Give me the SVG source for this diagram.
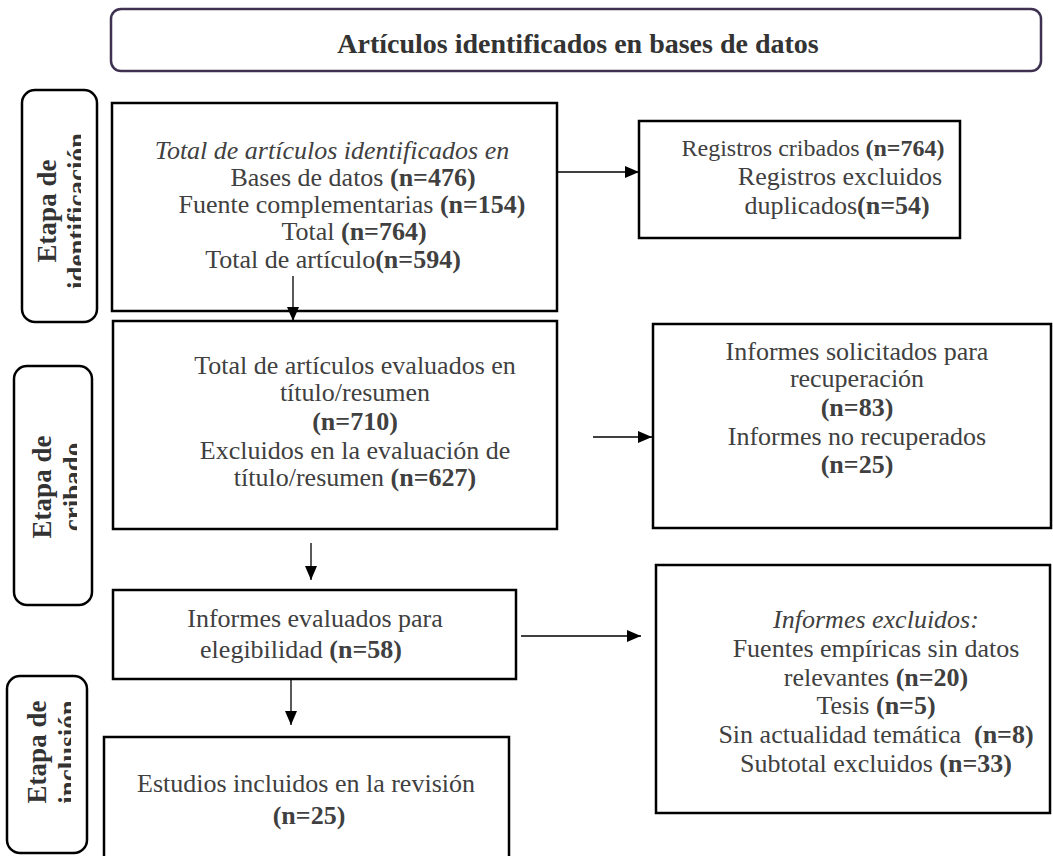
<svg xmlns="http://www.w3.org/2000/svg" width="1053" height="856" viewBox="0 0 1053 856">
<style>
.box{fill:#fff;stroke:#000;stroke-width:2.5}
.lbl{fill:#fff;stroke:#000;stroke-width:2.5}
.t{font-family:"Liberation Serif","Times New Roman",serif;font-size:26px;fill:#404040;text-anchor:middle}
.s{font-family:"Liberation Serif","Times New Roman",serif;font-size:27px;font-weight:bold;fill:#333;text-anchor:middle}
.b{font-weight:bold}
.i{font-style:italic}
.conn line{stroke:#000;stroke-width:1.3}
</style>
<defs>
<marker id="ah" markerUnits="userSpaceOnUse" markerWidth="14" markerHeight="12" refX="14" refY="6" orient="auto">
<path d="M0,0 L14,6 L0,12 z" fill="#000"/>
</marker>
<clipPath id="c1"><rect x="22" y="90" width="59" height="232"/></clipPath>
<clipPath id="c2"><rect x="14" y="366" width="63" height="239"/></clipPath>
<clipPath id="c3"><rect x="7" y="676" width="64" height="177"/></clipPath>
</defs>
<rect width="1053" height="856" fill="#fff"/>

<g id="title">
<rect x="111" y="9" width="930" height="62" rx="10" fill="#fff" stroke="#3f3151" stroke-width="2.5"/>
<text x="578" y="53" class="t b" style="font-size:28px;fill:#333">Artículos identificados en bases de datos</text>
</g>

<g id="stage-identificacion">
<rect class="lbl" x="22" y="90" width="75" height="232" rx="13"/>
<text class="s" transform="translate(56,211) rotate(-90)">Etapa de</text>
<g clip-path="url(#c1)"><text class="s" transform="translate(86,211) rotate(-90)">identificación</text></g>
</g>

<g id="stage-cribado">
<rect class="lbl" x="14" y="366" width="78" height="239" rx="13"/>
<text class="s" transform="translate(51,487) rotate(-90)">Etapa de</text>
<g clip-path="url(#c2)"><text class="s" transform="translate(82,487) rotate(-90)">cribado</text></g>
</g>

<g id="stage-inclusion">
<rect class="lbl" x="7" y="676" width="80" height="177" rx="13"/>
<text class="s" transform="translate(46,752) rotate(-90)">Etapa de</text>
<g clip-path="url(#c3)"><text class="s" transform="translate(77,752) rotate(-90)">inclusión</text></g>
</g>

<g id="identificados">
<rect class="box" x="112" y="103" width="445" height="208"/>
<text class="t i" x="332" y="159">Total de artículos identificados en</text>
<text class="t" x="353" y="186">Bases de datos <tspan class="b">(n=476)</tspan></text>
<text class="t" x="352" y="213">Fuente complementarias <tspan class="b">(n=154)</tspan></text>
<text class="t" x="354" y="240">Total <tspan class="b">(n=764)</tspan></text>
<text class="t" x="333" y="268">Total de artículo<tspan class="b">(n=594)</tspan></text>
</g>

<g id="cribados">
<rect class="box" x="639" y="121" width="321" height="117"/>
<text class="t" x="813" y="156" style="font-size:24px">Registros cribados <tspan class="b">(n=764)</tspan></text>
<text class="t" x="840" y="185">Registros excluidos</text>
<text class="t" x="837" y="214">duplicados<tspan class="b">(n=54)</tspan></text>
</g>

<g id="evaluados">
<rect class="box" x="113" y="321" width="444" height="208"/>
<text class="t" x="355" y="374">Total de artículos evaluados en</text>
<text class="t" x="355" y="401">título/resumen</text>
<text class="t b" x="355" y="430">(n=710)</text>
<text class="t" x="355" y="459">Excluidos en la evaluación de</text>
<text class="t" x="355" y="486">título/resumen <tspan class="b">(n=627)</tspan></text>
</g>

<g id="solicitados">
<rect class="box" x="653" y="324" width="398" height="204"/>
<text class="t" x="857" y="360">Informes solicitados para</text>
<text class="t" x="857" y="387">recuperación</text>
<text class="t b" x="857" y="416">(n=83)</text>
<text class="t" x="857" y="445">Informes no recuperados</text>
<text class="t b" x="857" y="473">(n=25)</text>
</g>

<g id="elegibilidad">
<rect class="box" x="113" y="590" width="403" height="89"/>
<text class="t" x="315" y="627">Informes evaluados para</text>
<text class="t" x="301" y="658">elegibilidad <tspan class="b">(n=58)</tspan></text>
</g>

<g id="excluidos">
<rect class="box" x="656" y="565" width="394" height="248"/>
<text class="t i" x="876" y="628">Informes excluidos:</text>
<text class="t" x="876" y="657">Fuentes empíricas sin datos</text>
<text class="t" x="876" y="686">relevantes <tspan class="b">(n=20)</tspan></text>
<text class="t" x="876" y="714">Tesis <tspan class="b">(n=5)</tspan></text>
<text class="t" x="876" y="743">Sin actualidad temática&#160; <tspan class="b">(n=8)</tspan></text>
<text class="t" x="876" y="772">Subtotal excluidos <tspan class="b">(n=33)</tspan></text>
</g>

<g id="incluidos">
<rect class="box" x="104" y="737" width="405" height="130"/>
<text class="t" x="306" y="792">Estudios incluidos en la revisión</text>
<text class="t b" x="309" y="824">(n=25)</text>
</g>

<g class="conn" id="connectors">
<line x1="557" y1="172" x2="639" y2="172" marker-end="url(#ah)"/>
<line x1="293" y1="276" x2="293" y2="321" marker-end="url(#ah)"/>
<line x1="593" y1="437" x2="652" y2="437" marker-end="url(#ah)"/>
<line x1="311" y1="543" x2="311" y2="580" marker-end="url(#ah)"/>
<line x1="521" y1="636" x2="641" y2="636" marker-end="url(#ah)"/>
<line x1="291" y1="679" x2="291" y2="725" marker-end="url(#ah)"/>
</g>
</svg>
